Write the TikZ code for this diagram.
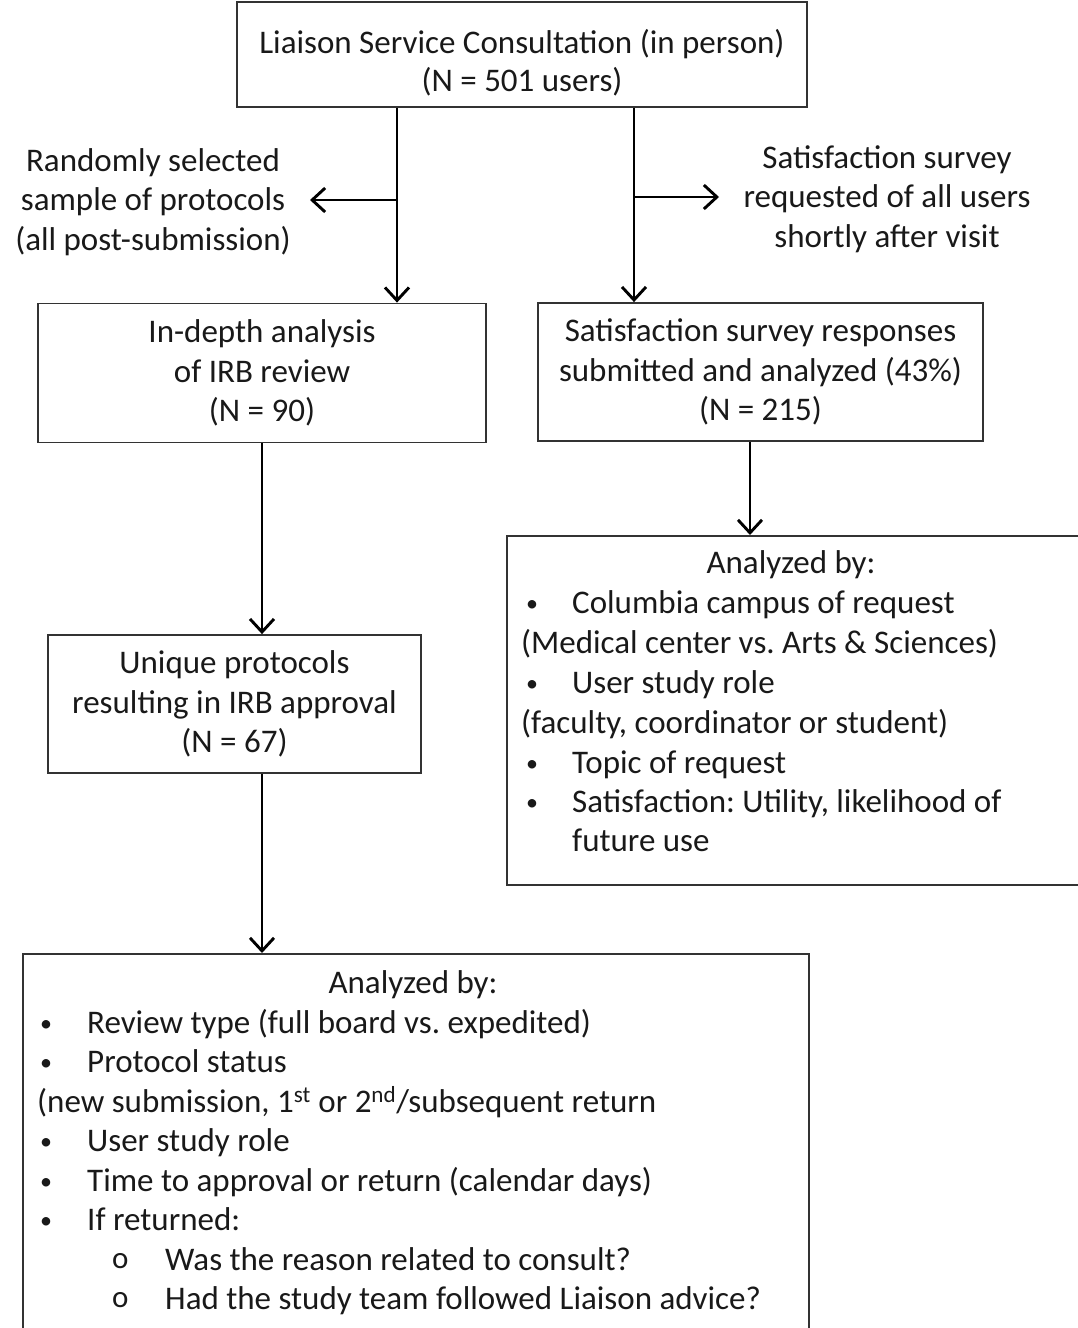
\documentclass[tikz,border=0pt]{standalone}
\usepackage{fontspec}
\setmainfont{Carlito}
\frenchspacing
\usetikzlibrary{arrows.meta}
\newcommand{\smbul}{{\fontsize{24}{24}\selectfont\raisebox{1.5pt}{•}}}
\newcommand{\subbul}{{\fontsize{31}{31}\selectfont o}}
\tikzset{
  box/.style={draw=black!80, line width=1.8pt, rectangle, inner sep=0pt},
  txt/.style={font=\fontsize{33}{39.6}\selectfont, text=black!90, inner sep=0pt},
  arr/.style={draw=black, line width=2.9pt, -{Straight Barb[length=13pt,width=24pt]}},
}
\begin{document}
\begin{tikzpicture}[x=1pt,y=-1pt]
\clip (0,0) rectangle (1078,1328);
\fill[white] (0,0) rectangle (1078,1328);

% boxes
\node[box, minimum width=570pt, minimum height=105pt] (top) at (522,54.5) {};
\node[txt, align=center] (toptxt) at (top.center) [yshift=-8.5pt]
  {Liaison Service Consultation (in person)\\[-1.6pt](N = 501 users)};
\node[box, txt, align=center, minimum width=448pt, minimum height=139pt] (l2) at (262,373)
  {In-depth analysis\\of IRB review\\(N = 90)};
\node[box, txt, align=center, minimum width=445pt, minimum height=138pt] (r2) at (760.5,372)
  {Satisfaction survey responses\\submitted and analyzed (43\%)\\(N = 215)};
\node[box, txt, align=center, minimum width=373pt, minimum height=138pt] (l3) at (234.5,704)
  {Unique protocols\\resulting in IRB approval\\(N = 67)};
\node[box, minimum width=600pt, minimum height=349pt, anchor=north west] (r3) at (506,535) {};
\node[box, minimum width=786pt, minimum height=420pt, anchor=north west] (b4) at (22,953) {};

% side labels
\node[txt, align=center] (lab) at (153,202) {Randomly selected\\sample of protocols\\(all post-submission)};
\node[txt, align=center] (rab) at (887,199) {Satisfaction survey\\requested of all users\\shortly after visit};

% split coordinates
\coordinate (ls) at (397,200);
\coordinate (le) at (310,200);
\coordinate (rs) at (634,197);
\coordinate (re) at (719,197);

% connectors
\draw[arr] (ls |- top.south) -- (ls |- l2.north);
\draw[arr] (ls) -- (le);
\draw[arr] (rs |- top.south) -- (rs |- r2.north);
\draw[arr] (rs) -- (re);
\draw[arr] (l2.south) -- (l2.south |- l3.north);
\draw[arr] (l3.south -| l2.south) -- (l2.south |- b4.north);
\coordinate (rx) at (750,0);
\draw[arr] (rx |- r2.south) -- (rx |- r3.north);

% right analyzed box text
\node[txt, anchor=base] (ra0) at (791,573) {Analyzed by:};
\node[txt, anchor=base west] (ra1b) at (526,613) {\smbul};
\node[txt, anchor=base west] (ra1) at (572,613) {Columbia campus of request};
\node[txt, anchor=base west] (ra2) at (521,653) {(Medical center vs. Arts \& Sciences)};
\node[txt, anchor=base west] (ra3b) at (526,693) {\smbul};
\node[txt, anchor=base west] (ra3) at (572,693) {User study role};
\node[txt, anchor=base west] (ra4) at (521,733) {(faculty, coordinator or student)};
\node[txt, anchor=base west] (ra5b) at (526,773) {\smbul};
\node[txt, anchor=base west] (ra5) at (572,773) {Topic of request};
\node[txt, anchor=base west] (ra6b) at (526,812) {\smbul};
\node[txt, anchor=base west] (ra6) at (572,812) {Satisfaction: Utility, likelihood of};
\node[txt, anchor=base west] (ra7) at (572,851) {future use};

% bottom analyzed box text
\node[txt, anchor=base] (ba0) at (413,993) {Analyzed by:};
\node[txt, anchor=base west] (ba1b) at (40,1033) {\smbul};
\node[txt, anchor=base west] (ba1) at (87,1033) {Review type (full board vs. expedited)};
\node[txt, anchor=base west] (ba2b) at (40,1072) {\smbul};
\node[txt, anchor=base west] (ba2) at (87,1072) {Protocol status};
\node[txt, anchor=base west] (ba3) at (37,1112) {(new submission, 1\textsuperscript{st} or 2\textsuperscript{nd}/subsequent return};
\node[txt, anchor=base west] (ba4b) at (40,1151) {\smbul};
\node[txt, anchor=base west] (ba4) at (87,1151) {User study role};
\node[txt, anchor=base west] (ba5b) at (40,1191) {\smbul};
\node[txt, anchor=base west] (ba5) at (87,1191) {Time to approval or return (calendar days)};
\node[txt, anchor=base west] (ba6b) at (40,1230) {\smbul};
\node[txt, anchor=base west] (ba6) at (87,1230) {If returned:};
\node[txt, anchor=base west] (ba7b) at (112,1268) {\subbul};
\node[txt, anchor=base west] (ba7) at (165,1270) {Was the reason related to consult?};
\node[txt, anchor=base west] (ba8b) at (112,1307) {\subbul};
\node[txt, anchor=base west] (ba8) at (165,1309) {Had the study team followed Liaison advice?};
\end{tikzpicture}
\end{document}
